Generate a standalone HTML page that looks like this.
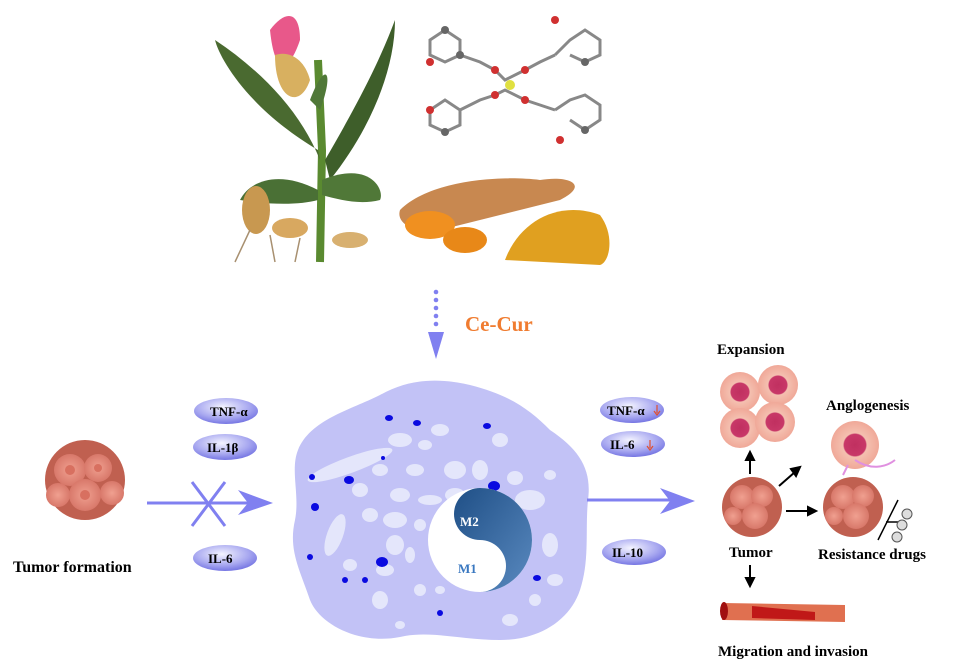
<!DOCTYPE html>
<html><head><style>
body{margin:0;background:#fff;}
svg{display:block;font-family:"Liberation Serif",serif;font-weight:bold;}
</style></head><body>
<svg width="966" height="672" viewBox="0 0 966 672" xmlns="http://www.w3.org/2000/svg">
<defs>
<radialGradient id="pill" cx="0.45" cy="0.35" r="0.7">
<stop offset="0" stop-color="#f4f4ff"/><stop offset="0.6" stop-color="#a8a8f0"/><stop offset="1" stop-color="#6c6ce0"/>
</radialGradient>
<linearGradient id="m2" x1="0" y1="0" x2="1" y2="1"><stop offset="0" stop-color="#1f4f86"/><stop offset="1" stop-color="#5a8ac0"/></linearGradient>
<radialGradient id="tum" cx="0.5" cy="0.5" r="0.5"><stop offset="0" stop-color="#f0a090"/><stop offset="1" stop-color="#d8786a"/></radialGradient>
<radialGradient id="exp" cx="0.5" cy="0.5" r="0.5"><stop offset="0" stop-color="#c03060"/><stop offset="0.45" stop-color="#c83868"/><stop offset="0.5" stop-color="#f4c0b0"/><stop offset="1" stop-color="#f0a898"/></radialGradient>
</defs>

<!-- plant -->
<g>
<path d="M320 262 L322 150 L318 60" stroke="#5a8a30" stroke-width="8" fill="none"/>
<path d="M318 150 C250 110 220 60 215 40 C260 70 300 110 320 160Z" fill="#4a6a30"/>
<path d="M325 160 C360 100 380 60 395 20 C395 70 370 130 330 180Z" fill="#3e5e2a"/>
<path d="M322 180 C370 160 385 190 380 200 C360 205 340 200 322 195Z" fill="#507838"/>
<path d="M318 190 C280 170 250 180 240 200 C270 205 300 205 318 200Z" fill="#4a7035"/>
<path d="M310 100 C325 60 335 70 320 110Z" fill="#507838"/>
<path d="M270 30 C285 10 300 10 300 40 C290 70 275 80 270 30Z" fill="#e8588a"/>
<path d="M275 55 C275 100 300 110 310 80 C305 60 290 50 275 55Z" fill="#d8b060"/>
<ellipse cx="256" cy="210" rx="14" ry="24" fill="#c89850"/>
<ellipse cx="290" cy="228" rx="18" ry="10" fill="#d8a860"/>
<ellipse cx="350" cy="240" rx="18" ry="8" fill="#d8b070"/>
<path d="M250 230 L235 262 M270 235 L275 262 M300 238 L295 262" stroke="#a89070" stroke-width="1.5"/>
</g>
<!-- molecule -->
<g stroke="#888" stroke-width="3" fill="none">
<path d="M430 40 L445 30 L460 40 L460 55 L445 62 L430 55Z M460 55 L480 62 L495 70 L505 80 L525 70 L540 62 L555 55 M555 55 L570 40 L585 30 L600 40 L600 55 L585 62 L570 55"/>
<path d="M430 110 L445 100 L460 110 L460 125 L445 132 L430 125Z M460 110 L480 100 L495 95 L505 90 L525 100 L540 105 L555 110 M555 110 L570 100 L585 95 L600 105 L600 120 L585 130 L570 120"/>
</g>
<g fill="#666"><circle cx="445" cy="30" r="4"/><circle cx="460" cy="55" r="4"/><circle cx="585" cy="62" r="4"/><circle cx="445" cy="132" r="4"/><circle cx="585" cy="130" r="4"/></g>
<g fill="#d03030"><circle cx="430" cy="62" r="4"/><circle cx="495" cy="70" r="4"/><circle cx="525" cy="70" r="4"/><circle cx="495" cy="95" r="4"/><circle cx="525" cy="100" r="4"/><circle cx="430" cy="110" r="4"/><circle cx="560" cy="140" r="4"/><circle cx="555" cy="20" r="4"/></g>
<circle cx="510" cy="85" r="5" fill="#e0e040"/>
<!-- turmeric -->
<path d="M400 210 C430 180 500 175 540 180 C570 175 590 185 560 200 C520 210 480 220 440 230 C420 235 395 225 400 210Z" fill="#c88850"/>
<ellipse cx="430" cy="225" rx="25" ry="14" fill="#f09020"/>
<ellipse cx="465" cy="240" rx="22" ry="13" fill="#e88818"/>
<path d="M505 260 C520 220 560 200 600 215 C615 235 610 262 600 265Z" fill="#e0a020"/>

<!-- Ce-Cur arrow -->
<g fill="#8080f0">
<circle cx="436" cy="292" r="2.3"/><circle cx="436" cy="300" r="2.3"/><circle cx="436" cy="308" r="2.3"/><circle cx="436" cy="316" r="2.3"/><circle cx="436" cy="324" r="2.3"/>
<path d="M428 332 L444 332 L436 359Z"/>
</g>
<text x="465" y="331" font-size="21" fill="#f07c30">Ce-Cur</text>

<!-- cell -->
<path d="M298 450 C310 420 350 410 380 395 C410 378 440 378 470 385 C510 395 530 410 550 430 C580 450 592 470 588 500 C585 530 590 560 580 590 C570 620 540 640 500 640 C460 640 430 630 400 637 C360 645 320 625 310 600 C300 570 288 550 295 520 C300 495 290 470 298 450Z" fill="#c2c2f6"/>
<g fill="#e4e6fb">
<ellipse cx="350" cy="465" rx="45" ry="8" transform="rotate(-20 350 465)"/>
<ellipse cx="400" cy="440" rx="12" ry="7"/><ellipse cx="440" cy="430" rx="9" ry="6"/><ellipse cx="425" cy="445" rx="7" ry="5"/>
<ellipse cx="500" cy="440" rx="8" ry="7"/><ellipse cx="480" cy="470" rx="8" ry="10"/><ellipse cx="455" cy="470" rx="11" ry="9"/>
<ellipse cx="415" cy="470" rx="9" ry="6"/><ellipse cx="380" cy="470" rx="8" ry="6"/><ellipse cx="360" cy="490" rx="8" ry="7"/>
<ellipse cx="400" cy="495" rx="10" ry="7"/><ellipse cx="430" cy="500" rx="12" ry="5"/><ellipse cx="455" cy="495" rx="10" ry="7"/>
<ellipse cx="515" cy="478" rx="8" ry="7"/><ellipse cx="530" cy="500" rx="15" ry="10"/><ellipse cx="550" cy="475" rx="6" ry="5"/>
<ellipse cx="335" cy="535" rx="8" ry="22" transform="rotate(20 335 535)"/><ellipse cx="370" cy="515" rx="8" ry="7"/>
<ellipse cx="395" cy="520" rx="12" ry="8"/><ellipse cx="395" cy="545" rx="9" ry="10"/><ellipse cx="420" cy="525" rx="6" ry="6"/>
<ellipse cx="350" cy="565" rx="7" ry="6"/><ellipse cx="385" cy="570" rx="9" ry="6"/><ellipse cx="410" cy="555" rx="5" ry="8"/>
<ellipse cx="550" cy="545" rx="8" ry="12"/><ellipse cx="555" cy="580" rx="8" ry="6"/><ellipse cx="535" cy="600" rx="6" ry="6"/>
<ellipse cx="380" cy="600" rx="8" ry="9"/><ellipse cx="420" cy="590" rx="6" ry="6"/><ellipse cx="440" cy="590" rx="5" ry="4"/>
<ellipse cx="400" cy="625" rx="5" ry="4"/><ellipse cx="510" cy="620" rx="8" ry="6"/><ellipse cx="505" cy="577" rx="6" ry="7"/>
</g>
<g fill="#0a0ae0">
<ellipse cx="389" cy="418" rx="4" ry="3"/><ellipse cx="417" cy="423" rx="4" ry="3"/><ellipse cx="487" cy="426" rx="4" ry="3"/>
<ellipse cx="349" cy="480" rx="5" ry="4"/><ellipse cx="312" cy="477" rx="3" ry="3"/>
<ellipse cx="315" cy="507" rx="4" ry="4"/><ellipse cx="383" cy="458" rx="2" ry="2"/><ellipse cx="494" cy="486" rx="6" ry="5"/>
<ellipse cx="310" cy="557" rx="3" ry="3"/><ellipse cx="382" cy="562" rx="6" ry="5"/><ellipse cx="345" cy="580" rx="3" ry="3"/>
<ellipse cx="365" cy="580" rx="3" ry="3"/><ellipse cx="537" cy="578" rx="4" ry="3"/><ellipse cx="440" cy="613" rx="3" ry="3"/>
</g>
<!-- nucleus yin-yang -->
<circle cx="480" cy="540" r="52" fill="#fff"/>
<path d="M480 488 A52 52 0 0 1 480 592 A26 26 0 0 0 480 540 A26 26 0 0 1 480 488Z" fill="url(#m2)"/>
<text x="460" y="526" font-size="13" fill="#fff">M2</text>
<text x="458" y="573" font-size="13" fill="#3a78c0">M1</text>

<!-- pills -->
<g font-size="13" fill="#000">
<ellipse cx="226" cy="411" rx="32" ry="13" fill="url(#pill)"/><text x="210" y="416">TNF-α</text>
<ellipse cx="225" cy="447" rx="32" ry="13" fill="url(#pill)"/><text x="207" y="452">IL-1β</text>
<ellipse cx="225" cy="558" rx="32" ry="13" fill="url(#pill)"/><text x="208" y="563">IL-6</text>
<ellipse cx="632" cy="410" rx="32" ry="13" fill="url(#pill)"/><text x="607" y="415">TNF-α</text>
<ellipse cx="633" cy="444" rx="32" ry="13" fill="url(#pill)"/><text x="610" y="449">IL-6</text>
<ellipse cx="634" cy="552" rx="32" ry="13" fill="url(#pill)"/><text x="612" y="557">IL-10</text>
</g>
<path d="M657 405 L657 413 M654 411 L657 415 L660 411" stroke="#e05030" stroke-width="1.2" fill="none"/>
<path d="M650 440 L650 448 M647 446 L650 450 L653 446" stroke="#e05030" stroke-width="1.2" fill="none"/>

<!-- arrows -->
<g stroke="#8080f0" stroke-width="3" fill="#8080f0">
<line x1="147" y1="503" x2="250" y2="503"/>
<line x1="192" y1="482" x2="225" y2="526"/><line x1="225" y1="482" x2="192" y2="526"/>
<line x1="587" y1="500" x2="672" y2="500"/>
</g>
<path d="M238 490 L273 503 L238 515 L248 503Z" fill="#8080f0"/>
<path d="M660 488 L695 501 L660 514 L670 501Z" fill="#8080f0"/>

<!-- tumors -->
<g>
<circle cx="85" cy="480" r="40" fill="#c06050"/>
<circle cx="70" cy="470" r="16" fill="url(#tum)"/><circle cx="98" cy="468" r="14" fill="url(#tum)"/>
<circle cx="85" cy="495" r="16" fill="url(#tum)"/><circle cx="58" cy="495" r="12" fill="url(#tum)"/><circle cx="112" cy="493" r="12" fill="url(#tum)"/>
<circle cx="70" cy="470" r="5" fill="#d87060"/><circle cx="85" cy="495" r="5" fill="#d87060"/><circle cx="98" cy="468" r="4" fill="#d87060"/>
</g>
<text x="13" y="572" font-size="16">Tumor formation</text>

<g>
<circle cx="752" cy="507" r="30" fill="#c06050"/>
<circle cx="742" cy="497" r="12" fill="url(#tum)"/><circle cx="762" cy="496" r="11" fill="url(#tum)"/>
<circle cx="755" cy="516" r="13" fill="url(#tum)"/><circle cx="733" cy="516" r="9" fill="url(#tum)"/>
</g>
<g>
<circle cx="853" cy="507" r="30" fill="#c06050"/>
<circle cx="843" cy="497" r="12" fill="url(#tum)"/><circle cx="863" cy="496" r="11" fill="url(#tum)"/>
<circle cx="856" cy="516" r="13" fill="url(#tum)"/><circle cx="834" cy="516" r="9" fill="url(#tum)"/>
</g>
<path d="M878 540 L898 500 M886 522 L900 522" stroke="#000" stroke-width="1.5"/>
<g fill="#ddd" stroke="#555" stroke-width="1"><circle cx="907" cy="514" r="5"/><circle cx="902" cy="525" r="5"/><circle cx="897" cy="537" r="5"/></g>

<circle cx="740" cy="392" r="20" fill="url(#exp)"/><circle cx="778" cy="385" r="20" fill="url(#exp)"/>
<circle cx="740" cy="428" r="20" fill="url(#exp)"/><circle cx="775" cy="422" r="20" fill="url(#exp)"/>
<circle cx="855" cy="445" r="24" fill="url(#exp)"/>
<path d="M855 460 C870 470 885 468 895 460 M848 465 L843 475" stroke="#e090e0" stroke-width="2" fill="none"/>

<g stroke="#000" stroke-width="2" fill="#000">
<line x1="750" y1="474" x2="750" y2="458"/><path d="M746 460 L750 452 L754 460Z"/>
<line x1="779" y1="486" x2="795" y2="472"/><path d="M791 469 L800 467 L796 476Z"/>
<line x1="786" y1="511" x2="810" y2="511"/><path d="M808 507 L816 511 L808 515Z"/>
<line x1="750" y1="565" x2="750" y2="580"/><path d="M746 578 L750 586 L754 578Z"/>
</g>
<path d="M722 603 L845 605 L845 622 L722 620Z" fill="#e07050"/>
<path d="M752 606 L815 612 L815 620 L752 618Z" fill="#c01818"/>
<ellipse cx="724" cy="611" rx="4" ry="9" fill="#a01010"/>

<g font-size="15">
<text x="717" y="354">Expansion</text>
<text x="826" y="410">Anglogenesis</text>
<text x="729" y="557">Tumor</text>
<text x="818" y="559">Resistance drugs</text>
<text x="718" y="656">Migration and invasion</text>
</g>
</svg>
</body></html>
